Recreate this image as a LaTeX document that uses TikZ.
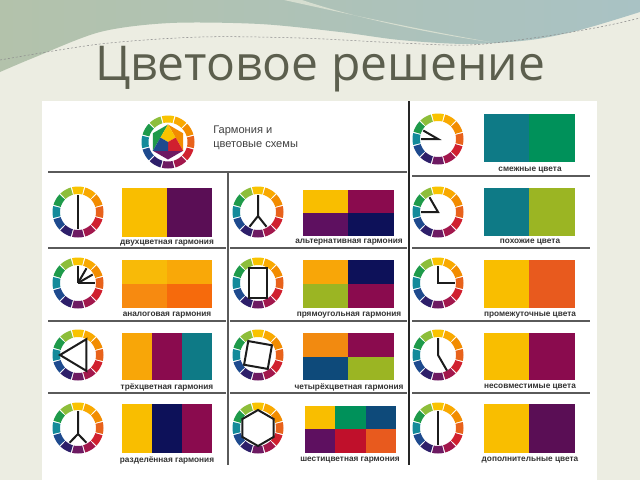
\documentclass[tikz,border=0pt]{standalone}
\usepackage{fontspec}
\setmainfont{Liberation Sans}
\newfontfamily\titlefont{Open Sans}
\newfontfamily\lblfont{Liberation Sans}
\definecolor{bg}{HTML}{ECEDE2}
\definecolor{bandL}{HTML}{B3C2AB}
\definecolor{bandR}{HTML}{A9C2C4}
\definecolor{swoosh}{HTML}{D6DED0}
\definecolor{titlec}{HTML}{5C5F4E}
\definecolor{gridc}{HTML}{5A5A5A}
\definecolor{handc}{HTML}{1C1C1C}
\definecolor{w0}{HTML}{F9C300}
\definecolor{w1}{HTML}{F9A900}
\definecolor{w2}{HTML}{F28C00}
\definecolor{w3}{HTML}{E8621B}
\definecolor{w4}{HTML}{D0202F}
\definecolor{w5}{HTML}{A2174C}
\definecolor{w6}{HTML}{6D1A62}
\definecolor{w7}{HTML}{2E1F6A}
\definecolor{w8}{HTML}{1E4A8E}
\definecolor{w9}{HTML}{138A9A}
\definecolor{w10}{HTML}{1E9A4A}
\definecolor{w11}{HTML}{8DBE3A}
\definecolor{cY}{HTML}{F9BE00}
\definecolor{cAmb}{HTML}{F8A608}
\definecolor{cOr}{HTML}{F28A10}
\definecolor{cRO}{HTML}{E85A1E}
\definecolor{cRed}{HTML}{C0102B}
\definecolor{cCr}{HTML}{8A0B4E}
\definecolor{cPu}{HTML}{5E1060}
\definecolor{cDPu}{HTML}{5A0E55}
\definecolor{cNavy}{HTML}{0D1159}
\definecolor{cDB}{HTML}{0E4A7A}
\definecolor{cTeal}{HTML}{0E7A86}
\definecolor{cGr}{HTML}{00915A}
\definecolor{cYG}{HTML}{9BB523}
\definecolor{cA1}{HTML}{F8BA08}
\definecolor{cA2}{HTML}{F9A808}
\definecolor{cA3}{HTML}{F78A10}
\definecolor{cA4}{HTML}{F66A0C}
\newcommand\colring[4]{%
  \begin{scope}[shift={(#1,#2)}]
    \foreach \c [count=\i from 0] in {w0,w1,w2,w3,w4,w5,w6,w7,w8,w9,w10,w11}{
      \pgfmathsetmacro\aa{-90+30*\i-13.5}
      \pgfmathsetmacro\bb{-90+30*\i+13.5}
      \fill[\c] plot[domain=\aa:\bb,samples=7] (\x:#3) -- plot[domain=\bb:\aa,samples=7] (\x:#4) -- cycle;
    }
  \end{scope}}
\tikzset{
  hand/.style={handc,line width=1.5pt,line join=miter},
  grid/.style={gridc,line width=1.1pt},
  lbl/.style={font=\lblfont\bfseries\fontsize{6.2}{7}\selectfont,text=black!80,inner sep=0pt},
}
\begin{document}
\begin{tikzpicture}[x=0.75pt,y=-0.75pt]
\useasboundingbox (0,0) rectangle (640,480);
% background
\fill[bg] (0,0) rectangle (640,480);
\shade[left color=bandL,right color=bandR] (0,0) -- (0,72)
  -- plot[smooth] coordinates {(0,72) (33,58) (100,32) (170,23) (260,24) (340,32) (400,40) (467,44) (530,40) (580,30) (640,12)}
  -- (640,0) -- cycle;
\fill[swoosh] (284,0) .. controls (330,10) and (410,28) .. (490,42)
  .. controls (420,32) and (350,16) .. (302,0) -- cycle;
\draw[black!45,line width=0.4pt,dash pattern=on 1.5pt off 1.5pt]
  plot[smooth] coordinates {(0,60) (100,44) (200,37) (300,38) (400,43) (470,45) (540,37) (600,27) (640,18)};
% title
\node[anchor=base,text=titlec,font=\titlefont\fontsize{36}{40}\selectfont,inner sep=0pt] (title) at (320,80) {Цветовое решение};
% white panel
\fill[white] (42,101) rectangle (597,480);
% grid
\draw[black!85,line width=1pt] (409,101) -- (409,465);
\draw[grid] (48,172) -- (407,172);
\draw[grid] (228,172) -- (228,465);
\foreach \yy in {248,321,393}{
  \draw[grid] (48,\yy) -- (226,\yy);
  \draw[grid] (230,\yy) -- (407,\yy);
}
\foreach \yy in {176,248,321,393}{
  \draw[grid] (412,\yy) -- (590,\yy);
}
% header
\colring{168}{142}{26.5}{19.5}
\begin{scope}[shift={(168,142)}]
  \def\R{17.5}
  \coordinate (T1) at (-90:\R); \coordinate (T2) at (30:\R); \coordinate (T3) at (150:\R);
  \coordinate (M12) at (-30:\R/2); \coordinate (M23) at (90:\R/2); \coordinate (M31) at (210:\R/2);
  \coordinate (O) at (0,0);
  \fill[w2] (T1) -- (-30:\R) -- (T2) -- cycle;
  \fill[w6] (T2) -- (90:\R) -- (T3) -- cycle;
  \fill[w10] (T3) -- (210:\R) -- (T1) -- cycle;
  \fill[w0] (T1) -- (M12) -- (O) -- (M31) -- cycle;
  \fill[w4] (M12) -- (T2) -- (M23) -- (O) -- cycle;
  \fill[w8] (M31) -- (O) -- (M23) -- (T3) -- cycle;
\end{scope}
\node[anchor=north west,align=left,font=\fontsize{8.3}{10}\selectfont,text=black!75,inner sep=0pt] (head) at (213,126) {Гармония и\\цветовые схемы};
% ===== left column =====
% row1 двухцветная
\colring{78}{212}{25.5}{18}
\begin{scope}[shift={(78,212)}]\draw[hand] (-90:17) -- (90:17);\end{scope}
\fill[cY] (122,188) rectangle (167,237); \fill[cDPu] (167,188) rectangle (212,237);
\node[lbl] (l1) at (167,243) {двухцветная гармония};
% row2 аналоговая
\colring{78}{283}{25.5}{18}
\begin{scope}[shift={(78,283)}]\foreach \a in {-90,-60,-30,0}{\draw[hand] (0,0) -- (\a:17);}\end{scope}
\fill[cA1] (122,260) rectangle (167,284); \fill[cA2] (167,260) rectangle (212,284);
\fill[cA3] (122,284) rectangle (167,308); \fill[cA4] (167,284) rectangle (212,308);
\node[lbl] (l2) at (167,315) {аналоговая гармония};
% row3 трёхцветная
\colring{78}{355}{25.5}{18}
\begin{scope}[shift={(78,355)}]\draw[hand] (180:18) -- (-62:18) -- (62:18) -- cycle;\end{scope}
\fill[cAmb] (122,333) rectangle (152,380); \fill[cCr] (152,333) rectangle (182,380); \fill[cTeal] (182,333) rectangle (212,380);
\node[lbl] (l3) at (167,387) {трёхцветная гармония};
% row4 разделённая
\colring{78}{428}{25.5}{18}
\begin{scope}[shift={(78,428)}]\draw[hand] (-90:17) -- (0,6) -- (60:17); \draw[hand] (0,6) -- (120:17);\end{scope}
\fill[cY] (122,404) rectangle (152,453); \fill[cNavy] (152,404) rectangle (182,453); \fill[cCr] (182,404) rectangle (212,453);
\node[lbl] (l4) at (167,460) {разделённая гармония};
% ===== middle column =====
% row1 альтернативная
\colring{258}{212}{25.5}{18}
\begin{scope}[shift={(258,212)}]\draw[hand] (-90:17) -- (0,4) -- (60:17); \draw[hand] (0,4) -- (120:17);\end{scope}
\fill[cY] (303,190) rectangle (348,213); \fill[cCr] (348,190) rectangle (394,213);
\fill[cPu] (303,213) rectangle (348,236); \fill[cNavy] (348,213) rectangle (394,236);
\node[lbl] (m1) at (349,242) {альтернативная гармония};
% row2 прямоугольная
\colring{258}{283}{25.5}{18}
\begin{scope}[shift={(258,283)}]\draw[hand] (-9,-15) rectangle (9,15);\end{scope}
\fill[cAmb] (303,260) rectangle (348,284); \fill[cNavy] (348,260) rectangle (394,284);
\fill[cYG] (303,284) rectangle (348,308); \fill[cCr] (348,284) rectangle (394,308);
\node[lbl] (m2) at (349,315) {прямоугольная гармония};
% row3 четырёхцветная
\colring{258}{355}{25.5}{18}
\begin{scope}[shift={(258,355)}]\draw[hand] (-125:17) -- (-35:17) -- (55:17) -- (145:17) -- cycle;\end{scope}
\fill[cOr] (303,333) rectangle (348,357); \fill[cCr] (348,333) rectangle (394,357);
\fill[cDB] (303,357) rectangle (348,380); \fill[cYG] (348,357) rectangle (394,380);
\node[lbl] (m3) at (349,387) {четырёхцветная гармония};
% row4 шестицветная
\colring{258}{428}{25.5}{18}
\begin{scope}[shift={(258,428)}]\draw[hand] (-90:18) -- (-30:18) -- (30:18) -- (90:18) -- (150:18) -- (210:18) -- cycle;\end{scope}
\fill[cY] (305,406) rectangle (335,429); \fill[cGr] (335,406) rectangle (366,429); \fill[cDB] (366,406) rectangle (396,429);
\fill[cPu] (305,429) rectangle (335,453); \fill[cRed] (335,429) rectangle (366,453); \fill[cRO] (366,429) rectangle (396,453);
\node[lbl] (m4) at (350,460) {шестицветная гармония};
% ===== right column =====
% top смежные
\colring{438}{139}{25.5}{18}
\begin{scope}[shift={(438,139)}]\draw[hand] (180:17) -- (0,0) -- (-150:17);\end{scope}
\fill[cTeal] (484,114) rectangle (529,162); \fill[cGr] (529,114) rectangle (575,162);
\node[lbl] (r0) at (530,170) {смежные цвета};
% row1 похожие
\colring{438}{212}{25.5}{18}
\begin{scope}[shift={(438,212)}]\draw[hand] (180:17) -- (0,0) -- (-120:17);\end{scope}
\fill[cTeal] (484,188) rectangle (529,236); \fill[cYG] (529,188) rectangle (575,236);
\node[lbl] (r1) at (530,242) {похожие цвета};
% row2 промежуточные
\colring{438}{283}{25.5}{18}
\begin{scope}[shift={(438,283)}]\draw[hand] (-90:17) -- (0,0) -- (0:17);\end{scope}
\fill[cY] (484,260) rectangle (529,308); \fill[cRO] (529,260) rectangle (575,308);
\node[lbl] (r2) at (530,315) {промежуточные цвета};
% row3 несовместимые
\colring{438}{355}{25.5}{18}
\begin{scope}[shift={(438,355)}]\draw[hand] (-90:17) -- (0,0) -- (60:18);\end{scope}
\fill[cY] (484,333) rectangle (529,380); \fill[cCr] (529,333) rectangle (575,380);
\node[lbl] (r3) at (530,387) {несовместимые цвета};
% row4 дополнительные
\colring{438}{428}{25.5}{18}
\begin{scope}[shift={(438,428)}]\draw[hand] (-90:17) -- (90:17);\end{scope}
\fill[cY] (484,404) rectangle (529,453); \fill[cDPu] (529,404) rectangle (575,453);
\node[lbl] (r4) at (530,460) {дополнительные цвета};
\end{tikzpicture}
\end{document}
